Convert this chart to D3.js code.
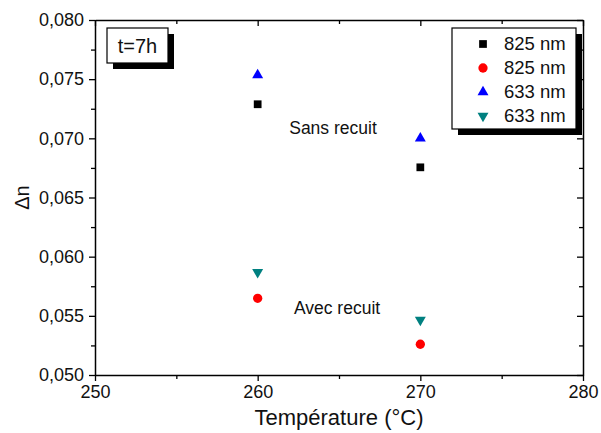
<!DOCTYPE html>
<html><head><meta charset="utf-8">
<script src="https://cdn.jsdelivr.net/npm/d3@7"></script>
<style>body{margin:0;background:#fff}svg{display:block}text{font-family:"Liberation Sans",Arial,sans-serif}</style>
</head><body><div id="c"></div>
<script>
const temps = [260, 270];
const sans825 = [0.07288, 0.06755];
const sans633 = [0.07535, 0.07000];
const avec825 = [0.05648, 0.05260];
const avec633 = [0.05868, 0.05465];
const xMajor = [250, 260, 270, 280];
const xMinor = [255, 265, 275];
const yMajor = [0.050, 0.055, 0.060, 0.065, 0.070, 0.075, 0.080];
const yMinor = [0.0525, 0.0575, 0.0625, 0.0675, 0.0725, 0.0775];
const legendLabels = ["825 nm", "825 nm", "633 nm", "633 nm"];

const W = 601, H = 433;
const m = {l: 95, r: 18, t: 20, b: 58};
const svg = d3.select("#c").append("svg").attr("width", W).attr("height", H);
const x = d3.scaleLinear().domain([250, 280]).range([m.l, W - m.r]);
const y = d3.scaleLinear().domain([0.050, 0.080]).range([H - m.b, m.t]);
const fmt = v => d3.format(".3f")(v).replace(".", ",");

const series = [
  {vals: sans825, sym: d3.symbolSquare, size: 60, color: "#000000", rot: 0},
  {vals: avec825, sym: d3.symbolCircle, size: 68, color: "#ff0000", rot: 0},
  {vals: sans633, sym: d3.symbolTriangle, size: 52, color: "#0000ff", rot: 0},
  {vals: avec633, sym: d3.symbolTriangle, size: 52, color: "#008080", rot: 180}
];

function styleAxis(g){ g.select(".domain").attr("stroke-width", 1.5); g.selectAll(".tick line").attr("stroke-width", 1.3); g.selectAll("text").attr("font-size", 18).attr("fill", "#111"); }
function minor(g){ g.select(".domain").remove(); g.selectAll("line").attr("stroke-width", 1.3); }
const gBottom = svg.append("g").attr("transform", `translate(0,${y(0.050)})`)
  .call(d3.axisBottom(x).tickValues(xMajor).tickSize(6).tickSizeOuter(0).tickPadding(4).tickFormat(d3.format("d")));
styleAxis(gBottom);
svg.append("g").attr("transform", `translate(0,${y(0.050)})`)
  .call(d3.axisBottom(x).tickValues(xMinor).tickSize(4).tickFormat("")).call(minor);
const gLeft = svg.append("g").attr("transform", `translate(${x(250)},0)`)
  .call(d3.axisLeft(y).tickValues(yMajor).tickSize(6).tickSizeOuter(0).tickPadding(5).tickFormat(fmt));
styleAxis(gLeft);
svg.append("g").attr("transform", `translate(${x(250)},0)`)
  .call(d3.axisLeft(y).tickValues(yMinor).tickSize(4).tickFormat("")).call(minor);
const gTop = svg.append("g").attr("transform", `translate(0,${y(0.080)})`)
  .call(d3.axisBottom(x).tickValues(xMajor).tickSize(6).tickSizeOuter(0).tickFormat(""));
gTop.select(".domain").attr("stroke-width", 1.5); gTop.selectAll("line").attr("stroke-width", 1.3);
svg.append("g").attr("transform", `translate(0,${y(0.080)})`)
  .call(d3.axisBottom(x).tickValues(xMinor).tickSize(4).tickFormat("")).call(minor);
const gRight = svg.append("g").attr("transform", `translate(${x(280)},0)`)
  .call(d3.axisLeft(y).tickValues(yMajor).tickSize(6).tickSizeOuter(0).tickFormat(""));
gRight.select(".domain").attr("stroke-width", 1.5); gRight.selectAll("line").attr("stroke-width", 1.3);
svg.append("g").attr("transform", `translate(${x(280)},0)`)
  .call(d3.axisLeft(y).tickValues(yMinor).tickSize(4).tickFormat("")).call(minor);

svg.append("text").attr("x", (x(250) + x(280)) / 2).attr("y", 425).attr("text-anchor", "middle")
  .attr("font-size", 22).attr("fill", "#111").text("Température (°C)");
svg.append("text").attr("transform", `translate(29,${(y(0.05)+y(0.08))/2}) rotate(-90)`).attr("text-anchor", "middle")
  .attr("font-size", 20).attr("fill", "#111").text("Δn");

series.forEach(s => {
  svg.append("g").selectAll("path").data(s.vals).join("path")
    .attr("transform", (d, i) => `translate(${x(temps[i])},${y(d)}) rotate(${s.rot})`)
    .attr("d", d3.symbol().type(s.sym).size(s.size)).attr("fill", s.color);
});

svg.append("text").attr("x", x(264.63)).attr("y", y(0.07037)).attr("text-anchor", "middle")
  .attr("font-size", 17.5).attr("fill", "#111").text("Sans recuit");
svg.append("text").attr("x", x(264.88)).attr("y", y(0.05516)).attr("text-anchor", "middle")
  .attr("font-size", 17.5).attr("fill", "#111").text("Avec recuit");

const tb = {x: 107, y: 28, w: 61, h: 35};
svg.append("rect").attr("x", tb.x + 6).attr("y", tb.y + 6).attr("width", tb.w).attr("height", tb.h).attr("fill", "#000");
svg.append("rect").attr("x", tb.x).attr("y", tb.y).attr("width", tb.w).attr("height", tb.h).attr("fill", "#fff").attr("stroke", "#000").attr("stroke-width", 1.2);
svg.append("text").attr("x", tb.x + tb.w / 2).attr("y", tb.y + 25).attr("text-anchor", "middle").attr("font-size", 20).attr("fill", "#111").text("t=7h");

const lb = {x: 452, y: 28, w: 124, h: 101};
svg.append("rect").attr("x", lb.x + 6).attr("y", lb.y + 6).attr("width", lb.w).attr("height", lb.h).attr("fill", "#000");
svg.append("rect").attr("x", lb.x).attr("y", lb.y).attr("width", lb.w).attr("height", lb.h).attr("fill", "#fff").attr("stroke", "#000").attr("stroke-width", 1.2);
const lg = svg.append("g").selectAll("g").data(series).join("g")
  .attr("transform", (d, i) => `translate(${lb.x + 31},${lb.y + 16 + i * 24})`);
lg.append("path").attr("transform", d => `rotate(${d.rot})`).attr("d", d => d3.symbol().type(d.sym).size(d.size)()).attr("fill", d => d.color);
lg.append("text").attr("x", 21).attr("y", 6).attr("font-size", 18.5).attr("fill", "#111").text((d, i) => legendLabels[i]);
</script></body></html>
